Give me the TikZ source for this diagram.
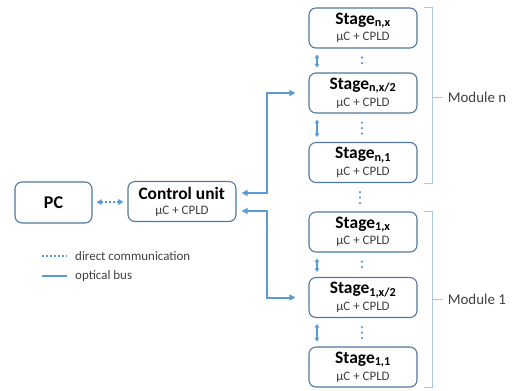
\documentclass[tikz,border=0pt]{standalone}
\usepackage{fontspec}
\setmainfont{Carlito}
\usetikzlibrary{arrows.meta,calc}
\definecolor{busblue}{RGB}{91,155,213}
\definecolor{boxborder}{RGB}{80,120,160}
\definecolor{bracecol}{RGB}{170,200,230}
\definecolor{txtgray}{RGB}{64,64,64}
\begin{document}
\begin{tikzpicture}[x=1bp,y=-1bp,
  box/.style={draw=boxborder, line width=1.1bp, rounded corners=7bp, fill=white,
    minimum width=108bp, minimum height=40bp, align=center, inner sep=0pt},
  ttl/.style={font=\fontsize{18}{19}\selectfont\bfseries},
  bus/.style={draw=busblue, line width=2bp, {Triangle[length=6bp,width=6bp]}-{Triangle[length=6bp,width=6bp]}},
  small/.style={draw=busblue, line width=1.5bp, {Triangle[length=3.5bp,width=4.5bp]}-{Triangle[length=3.5bp,width=4.5bp]}},
  direct/.style={draw=busblue, line width=2bp, dash pattern=on 2bp off 2bp},
  vdots/.style={draw=busblue, line width=2.6bp, line cap=round, dash pattern=on 0pt off 5.5bp},
  brace/.style={draw=bracecol, line width=1bp},
  modlbl/.style={font=\fontsize{15}{17}\selectfont, text=txtgray, anchor=west, inner sep=0pt},
  leg/.style={font=\fontsize{13}{15}\selectfont, text=txtgray, anchor=west, inner sep=0pt}
]
\useasboundingbox (0,0) rectangle (521,390);
\newcommand{\stagetext}[2]{{\fontsize{17.5}{19}\selectfont\bfseries #1\textsubscript{#2}}\\[3bp]{\fontsize{13}{14}\selectfont\color{txtgray}µC + CPLD}}

% left side
\node[box, minimum width=77bp, minimum height=41bp, ttl] (pc) at (53.5,202.5) {PC};
\node[box] (cu) at (182,201.5) {\stagetext{Control unit}{}};
% stages
\node[box] (snx)  at (363,28)    {\stagetext{Stage}{n,x}};
\node[box] (snxh) at (363,93)    {\stagetext{Stage}{n,x/2}};
\node[box] (sn1)  at (363,162.5) {\stagetext{Stage}{n,1}};
\node[box] (s1x)  at (363,232)   {\stagetext{Stage}{1,x}};
\node[box] (s1xh) at (363,297.5) {\stagetext{Stage}{1,x/2}};
\node[box] (s11)  at (363,367)   {\stagetext{Stage}{1,1}};

% PC <-> control unit
\draw[direct, {Triangle[length=5bp,width=5.5bp]}-{Triangle[length=5bp,width=5.5bp]}, shorten <=4bp, shorten >=4bp] (pc) -- (cu);

% optical bus
\draw[bus, shorten <=5bp, shorten >=13bp] ($(cu.east)+(0,-8.5)$) -| ($(snxh.west)+(-41,0)$) -- (snxh.west);
\draw[bus, shorten <=5bp, shorten >=13bp] ($(cu.east)+(0,9.5)$) -| ($(s1xh.west)+(-41,0)$) -- (s1xh.west);

% small inter-stage arrows
\foreach \a/\b in {snx/snxh, snxh/sn1, s1x/s1xh, s1xh/s11}{
  \draw[small, shorten <=6bp, shorten >=5bp] ($(\a.south west)+(8.5,0)$) -- ($(\b.north west)+(8.5,0)$);
  \draw[vdots] ($(\a.south)+(-1,9)$) -- ($(\b.north)+(-1,-5)$);
}
\draw[vdots] ($(sn1.south)+(-3,9)$) -- ($(s1x.north)+(-3,-8)$);

% braces
\draw[brace] ($(snx.north east)+(6,0)$) -| ($(sn1.south east)+(15,0)$) -- +(-9,0);
\draw[brace] ($(snxh.east)+(15,4)$) -- +(10,0) coordinate (mn);
\node[modlbl] (modn) at ($(mn)+(5,0)$) {Module n};
\draw[brace] ($(s1x.north east)+(6,0)$) -| ($(s11.south east)+(15,0)$) -- +(-9,0);
\draw[brace] ($(s1xh.east)+(15,1.5)$) -- +(10,0) coordinate (m1);
\node[modlbl] (mod1) at ($(m1)+(5,0)$) {Module 1};

% legend
\coordinate (l1a) at (42,256); \coordinate (l1b) at (67,256);
\coordinate (l2a) at (42,276); \coordinate (l2b) at (67,276);
\draw[direct] (l1a) -- (l1b);
\draw[draw=busblue, line width=2bp] (l2a) -- (l2b);
\node[leg] (lg1) at ($(l1b)+(8,0)$) {direct communication};
\node[leg] (lg2) at ($(l2b)+(8,0)$) {optical bus};
\end{tikzpicture}
\end{document}
